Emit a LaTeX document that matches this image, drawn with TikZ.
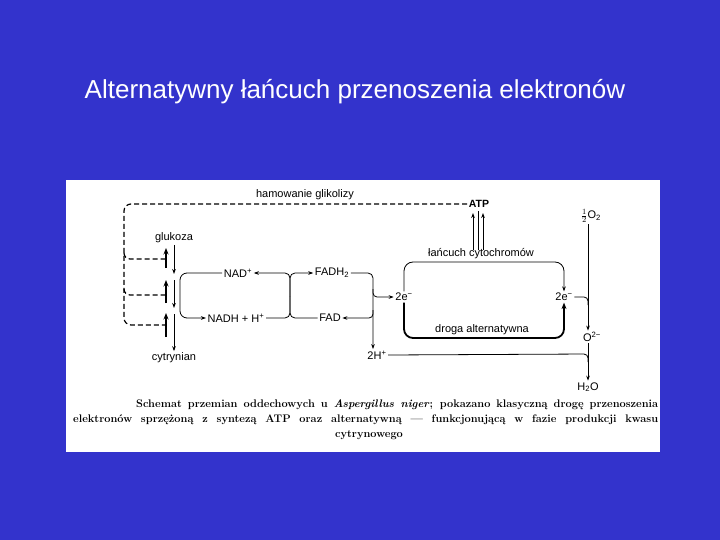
\documentclass[tikz,border=0pt]{standalone}
\usepackage{fontspec}
\newfontfamily\sansf{Liberation Sans}
\usetikzlibrary{arrows.meta}
\definecolor{bg}{RGB}{51,51,204}
\begin{document}
\begin{tikzpicture}[x=1pt,y=-1pt,
  lbl/.style={font=\sansf\fontsize{11}{13}\selectfont, inner sep=1.5pt},
  thinl/.style={line width=0.8pt},
  thickl/.style={line width=1.8pt},
  fb/.style={line width=1.2pt, dash pattern=on 5pt off 3pt},
  arr/.style={-{Stealth[length=5pt,width=3.6pt]}},
  tarr/.style={-{Stealth[length=6.5pt,width=5pt]}},
  capt/.style={font=\bfseries\fontsize{11}{14}\selectfont, inner sep=0pt}
]
\useasboundingbox (0,0) rectangle (720,540);
\fill[bg] (0,0) rectangle (720,540);
\fill[white] (66,180) rectangle (660,452);

\node[font=\sansf\fontsize{26}{30}\selectfont, text=white] (title) at (355,92) {Alternatywny łańcuch przenoszenia elektronów};

% labels
\node[lbl] (ham) at (305,195) {hamowanie glikolizy};
\node[lbl, font=\sansf\bfseries\fontsize{10.5}{12}\selectfont] (atp) at (479,204) {ATP};
\node[lbl] (glu) at (174,238) {glukoza};
\node[lbl] (cyt) at (174,358) {cytrynian};
\node[lbl] (nad) at (238,273) {NAD\textsuperscript{+}};
\node[lbl] (nadh) at (236,318) {NADH + H\textsuperscript{+}};
\node[lbl] (fadh) at (332,273) {FADH\textsubscript{2}};
\node[lbl] (fad) at (330,318) {FAD};
\node[lbl] (e1) at (404,297) {2e\textsuperscript{−}};
\node[lbl] (e2) at (564,297) {2e\textsuperscript{−}};
\node[lbl] (h2p) at (377,355) {2H\textsuperscript{+}};
\node[lbl] (cyto) at (481,254) {łańcuch cytochromów};
\node[lbl] (alt) at (482,330) {droga alternatywna};
\node[lbl] (o2) at (591,216) {$\frac{1}{2}$O\textsubscript{2}};
\node[lbl] (o2m) at (592,337) {O\textsuperscript{2−}};
\node[lbl] (h2o) at (588,387) {H\textsubscript{2}O};

% coordinates
\coordinate (vx) at (588,0);
\coordinate (d1) at (166,259);
\coordinate (d2) at (166,295);
\coordinate (d3) at (166,325);
\coordinate (u1s) at (166,268); \coordinate (u1e) at (166,248);
\coordinate (u2s) at (166,303); \coordinate (u2e) at (166,280);
\coordinate (u3s) at (166,337); \coordinate (u3e) at (166,313);
\coordinate (dn1e) at (174,274);
\coordinate (dn2s) at (174,280); \coordinate (dn2e) at (174,308);
\coordinate (dn3s) at (174,314);
\coordinate (jm) at (290,296);
\coordinate (jr) at (373,297);
\coordinate (a1s) at (473,250); \coordinate (a1e) at (473,213);
\coordinate (a2s) at (478,250); \coordinate (a2e) at (478,211);
\coordinate (a3s) at (483,250); \coordinate (a3e) at (483,213);

% feedback (dashed)
\draw[fb, rounded corners=7pt] (atp.west) -- (124,204) -- (124,325) -- (d3);
\draw[fb, rounded corners=6pt] (124,253) -- (124,259) -- (d1);
\draw[fb, rounded corners=6pt] (124,289) -- (124,295) -- (d2);

% glycolysis arrows
\draw[thickl,tarr] (u1s) -- (u1e);
\draw[thickl,tarr] (u2s) -- (u2e);
\draw[thickl,tarr] (u3s) -- (u3e);
\draw[thinl,arr] (glu.south -| dn1e) -- (dn1e);
\draw[thinl,arr] (dn2s) -- (dn2e);
\draw[thinl,arr] (dn3s) -- (cyt.north -| dn3s);

% NAD loop
\draw[thinl,arr,rounded corners=7pt] (nad.west) -- (180,273) -- (180,318) -- (nadh.west);

% middle junction
\draw[thinl,arr,rounded corners=5pt] (jm) -- (290,273) -- (nad.east);
\draw[thinl,arr,rounded corners=5pt] (jm) -- (290,273) -- (fadh.west);
\draw[thinl,rounded corners=5pt] (nadh.east) -- (290,318) -- (jm);
\draw[thinl,rounded corners=5pt] (fad.west) -- (290,318) -- (jm);

% right bracket
\draw[thinl,arr,rounded corners=5pt] (fadh.east) -- (373,273) -- (h2p.north -| jr);
\draw[thinl,arr,rounded corners=4pt] (373,289) -- (jr) -- (e1.west);
\draw[thinl,arr,rounded corners=4pt] (373,310) -- (373,318) -- (fad.east);

% electron paths
\draw[thinl,arr,rounded corners=9pt] (e1.north) -- (404,262) -- (564,262) -- (e2.north);
\draw[thickl,tarr,rounded corners=9pt] (e1.south) -- (404,338) -- (564,338) -- (e2.south);

% ATP arrows
\draw[thinl,arr] (a1s) -- (a1e);
\draw[thinl] (a2s) -- (a2e);
\draw[thinl,arr] (a3s) -- (a3e);

% oxygen side
\draw[thinl,rounded corners=4pt] (e2.east) -- (588,297) -- (588,305);
\draw[thinl,arr] (o2.south -| vx) -- (o2m.north -| vx);
\draw[thinl,arr] (o2m.south -| vx) -- (h2o.north -| vx);
\draw[thinl,rounded corners=4pt] (h2p.east) -- (588,354) -- (588,362);

% caption
\node[capt, anchor=west] (cap1) at (136,405) {\makebox[522pt][s]{Schemat przemian oddechowych u \textit{Aspergillus niger}; pokazano klasyczną drogę przenoszenia}};
\node[capt, anchor=west] (cap2) at (73,420) {\makebox[585pt][s]{elektronów sprzężoną z syntezą ATP oraz alternatywną --- funkcjonującą w fazie produkcji kwasu}};
\node[capt] (cap3) at (369,435) {cytrynowego};
\end{tikzpicture}
\end{document}
